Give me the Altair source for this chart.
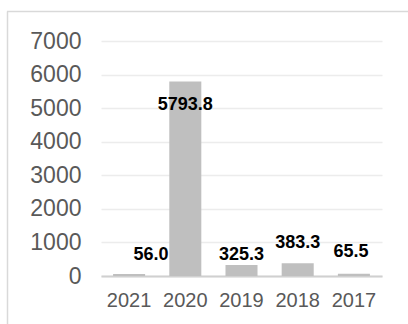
import altair as alt
import pandas as pd

years = ["2021", "2020", "2019", "2018", "2017"]
values = [56.0, 5793.8, 325.3, 383.3, 65.5]
y_ticks = [0, 1000, 2000, 3000, 4000, 5000, 6000, 7000]

df = pd.DataFrame({"year": years, "value": values})

FONT = "Liberation Sans"
# per-label nudges (style only)
label_offsets = {"2021": (22, -19), "2020": (0, 24), "2019": (0, -10),
                 "2018": (0, -20), "2017": (-3, -22)}

x_enc = alt.X("year:N", sort=years, title=None,
              scale=alt.Scale(paddingInner=0.43, paddingOuter=0.215),
              axis=alt.Axis(labelAngle=0, labelFont=FONT, labelFontSize=20,
                            labelColor="#595959", ticks=False,
                            domainColor="#d0d0d0", domainWidth=2,
                            labelPadding=14))
y_enc = alt.Y("value:Q", title=None,
              scale=alt.Scale(domain=[0, 7000], nice=False),
              axis=alt.Axis(values=y_ticks, format="d", labelOverlap=False,
                            labelFont=FONT, labelFontSize=23,
                            labelColor="#595959", ticks=False, domain=False,
                            gridColor="#ececec", gridWidth=1.5,
                            labelPadding=20))

base = alt.Chart(df).encode(x=x_enc, y=y_enc)

bars = base.mark_bar(color="#bfbfbf")

layers = [bars]
for yr, (dx, dy) in label_offsets.items():
    layers.append(
        base.transform_filter(alt.datum.year == yr).mark_text(
            font=FONT, fontSize=18, fontWeight="bold", color="#000000",
            baseline="middle", align="center", dx=dx, dy=dy
        ).encode(text=alt.Text("value:Q", format=".1f"))
    )

frame_data = alt.Data(values=[{"k": 1}])
vline = alt.Chart(frame_data).mark_rule(color="#d9d9d9", strokeWidth=1.5).encode(
    x=alt.value(-93.5), y=alt.value(-29.5), y2=alt.value(300))
hline = alt.Chart(frame_data).mark_rule(color="#d9d9d9", strokeWidth=1.5).encode(
    x=alt.value(-94), x2=alt.value(320), y=alt.value(-29.5))
layers += [vline, hline]

chart = alt.layer(*layers).properties(
    width=281, height=235,
    autosize=alt.AutoSizeParams(type="none"),
    padding={"left": 101, "top": 41, "right": 26, "bottom": 48},
    background="#ffffff",
).configure_view(stroke=None)

chart.save("out.html", embed_options={"renderer": "svg", "actions": False})
